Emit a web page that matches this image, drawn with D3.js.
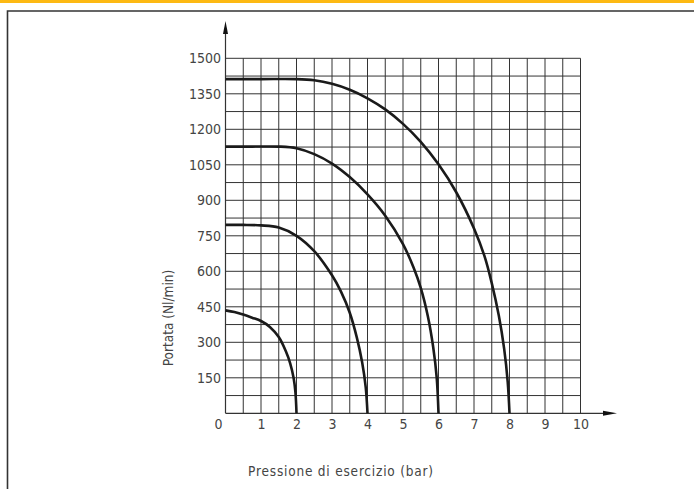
<!DOCTYPE html>
<html>
<head>
<meta charset="utf-8">
<script src="https://cdn.jsdelivr.net/npm/d3@7"></script>
<style>
  html, body { margin: 0; padding: 0; background: #fff; }
  .tick-label { font-family: "DejaVu Sans Condensed", "DejaVu Sans", sans-serif; font-size: 14px; fill: #444; }
  .axis-title { font-family: "DejaVu Sans Condensed", "DejaVu Sans", sans-serif; font-size: 13.5px; fill: #444; }
</style>
</head>
<body>
<div class="chart"></div>
<script>
// Tick labels
const xTicks = [1, 2, 3, 4, 5, 6, 7, 8, 9, 10];
const yTicks = [150, 300, 450, 600, 750, 900, 1050, 1200, 1350, 1500];

// Curves: pressure (bar) and flow (Nl/min)
const curve2bar = [[0, 435], [0.25, 428], [0.5, 417], [0.75, 404], [1.0, 390], [1.25, 365], [1.5, 322], [1.7, 262], [1.82, 212], [1.92, 148], [1.97, 88], [2.0, 0]];
const curve4bar = [[0, 796], [0.5, 796], [1.0, 794], [1.5, 785], [2.0, 750], [2.5, 685], [3.0, 583], [3.25, 515], [3.5, 425], [3.7, 320], [3.85, 215], [3.95, 110], [4.0, 0]];
const curve6bar = [[0, 1127], [0.75, 1127], [1.5, 1127], [2.0, 1120], [2.5, 1095], [3.0, 1055], [3.5, 998], [4.0, 925], [4.5, 835], [5.0, 715], [5.3, 615], [5.5, 530], [5.7, 410], [5.85, 280], [5.95, 150], [6.0, 0]];
const curve8bar = [[0, 1412], [1.0, 1412], [2.0, 1412], [2.5, 1407], [3.0, 1392], [3.5, 1367], [4.0, 1331], [4.5, 1284], [5.0, 1223], [5.5, 1147], [6.0, 1052], [6.5, 934], [7.0, 781], [7.3, 662], [7.5, 550], [7.7, 412], [7.85, 272], [7.95, 132], [8.0, 0]];
const curves = [curve2bar, curve4bar, curve6bar, curve8bar];

function createChart() {
    const W = 694, H = 489;

    const svg = d3.select("div.chart").append("svg")
        .attr("width", W)
        .attr("height", H);

    // Orange band and frame
    svg.append("rect")
        .attr("x", 0).attr("y", 0)
        .attr("width", W).attr("height", 3)
        .attr("fill", "#fdb913");

    svg.append("path")
        .attr("d", `M7.5,${H}V11H${W}`)
        .attr("fill", "none")
        .attr("stroke", "#333")
        .attr("stroke-width", 1.6);

    // Scales
    const x = d3.scaleLinear().domain([0, 10]).range([225.5, 580.5]);
    const y = d3.scaleLinear().domain([0, 1500]).range([413.3, 58.3]);

    // Grid every 0.5 bar and 75 Nl/min
    const grid = svg.append("g").attr("stroke", "#333").attr("stroke-width", 1);
    grid.selectAll(".vline")
        .data(d3.range(1, 21).map(i => i * 0.5))
        .enter().append("line")
        .attr("x1", d => x(d)).attr("x2", d => x(d))
        .attr("y1", y(0)).attr("y2", y(1500));
    grid.selectAll(".hline")
        .data(d3.range(1, 21).map(i => i * 75))
        .enter().append("line")
        .attr("x1", x(0)).attr("x2", x(10))
        .attr("y1", d => y(d)).attr("y2", d => y(d));

    // Axis lines with arrows
    svg.append("line")
        .attr("x1", x(0)).attr("x2", x(0))
        .attr("y1", y(0)).attr("y2", 30)
        .attr("stroke", "#333").attr("stroke-width", 1.2);
    svg.append("path")
        .attr("d", `M${x(0)},21L${x(0) - 2.5},34L${x(0) + 2.5},34Z`)
        .attr("fill", "#111");

    svg.append("line")
        .attr("x1", x(0)).attr("x2", 606)
        .attr("y1", y(0)).attr("y2", y(0))
        .attr("stroke", "#333").attr("stroke-width", 1.2);
    svg.append("path")
        .attr("d", `M617,${y(0)}L603,${y(0) - 2.5}L603,${y(0) + 2.5}Z`)
        .attr("fill", "#111");

    // Tick labels
    const yAxis = svg.append("g")
        .attr("transform", `translate(${x(0)},0)`)
        .call(d3.axisLeft(y).tickValues(yTicks).tickFormat(d3.format("d")).tickSize(0).tickPadding(4.5));
    yAxis.select(".domain").remove();
    yAxis.selectAll("text").attr("class", "tick-label").attr("font-family", null).attr("font-size", null);

    const xAxis = svg.append("g")
        .attr("transform", `translate(0,${y(0)})`)
        .call(d3.axisBottom(x).tickValues(xTicks).tickFormat(d3.format("d")).tickSize(0).tickPadding(6));
    xAxis.select(".domain").remove();
    xAxis.selectAll("text").attr("class", "tick-label").attr("font-family", null).attr("font-size", null);

    // Origin label
    svg.append("text")
        .attr("class", "tick-label")
        .attr("x", x(0) - 7)
        .attr("y", 429)
        .attr("text-anchor", "middle")
        .text("0");

    // Curves
    const line = d3.line()
        .x(d => x(d[0]))
        .y(d => y(d[1]))
        .curve(d3.curveCatmullRom.alpha(0.5));

    svg.selectAll(".curve")
        .data(curves)
        .enter().append("path")
        .attr("class", "curve")
        .attr("d", line)
        .attr("fill", "none")
        .attr("stroke", "#1a1a1a")
        .attr("stroke-width", 2.6);

    // Axis titles
    svg.append("text")
        .attr("class", "axis-title")
        .attr("transform", "translate(173,318) rotate(-90)")
        .attr("text-anchor", "middle")
        .text("Portata (Nl/min)");

    svg.append("text")
        .attr("class", "axis-title")
        .attr("x", 341)
        .attr("y", 476)
        .attr("text-anchor", "middle")
        .style("letter-spacing", "0.8px")
        .text("Pressione di esercizio (bar)");
}

createChart();
</script>
</body>
</html>
